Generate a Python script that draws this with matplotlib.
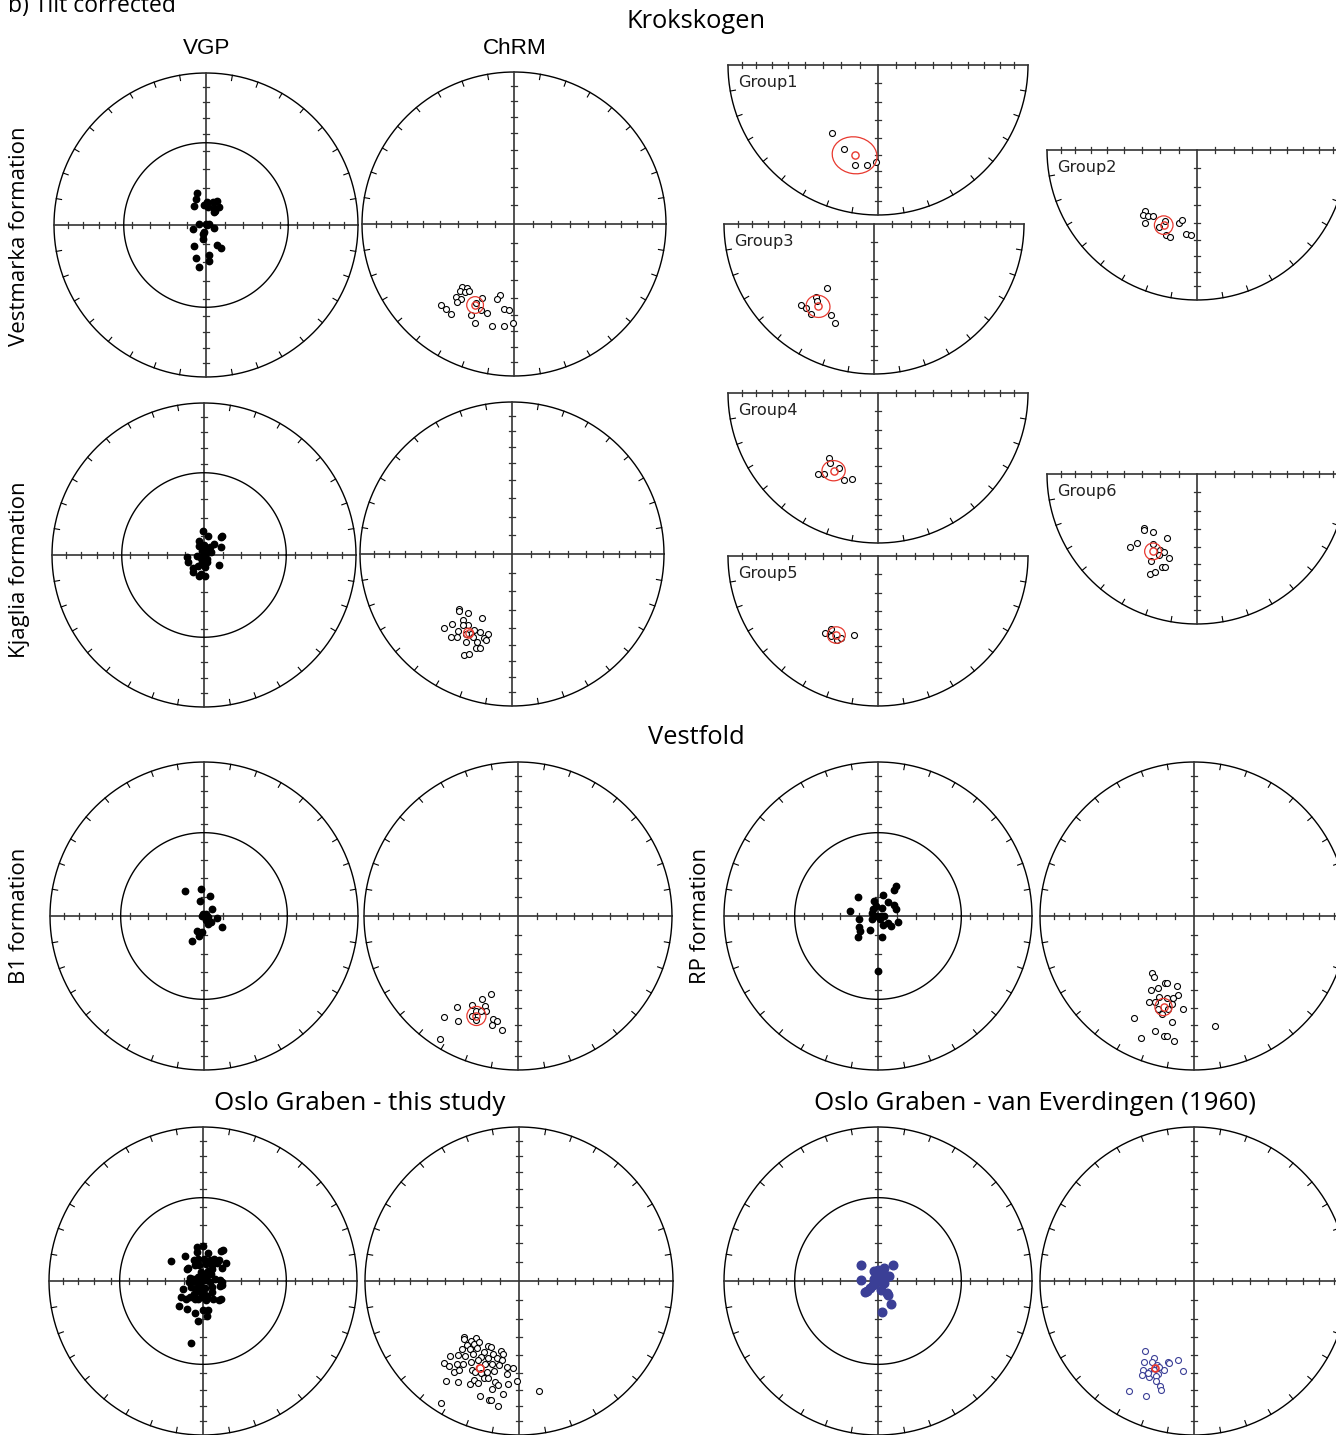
import numpy as np
import matplotlib
matplotlib.use('Agg')
import matplotlib.pyplot as plt
from matplotlib.patches import Ellipse

W, H = 1336, 1435
plt.rcParams['font.family'] = ['Open Sans', 'DejaVu Sans']

    ########################################################
    #! Data: east / north in units of the net radius      #
    #  (lower hemisphere, equal area) #
    ########################################################

# Vestmarka formation
vm_vgp_x = [-0.062, -0.068, -0.079, -0.013, 0.004, 0.013, 0.048, 0.075, 0.053, 0.084, 0.059, 0.053, -0.048, 0.0,
            0.009, 0.022, -0.084, 0.053, -0.013, -0.018, -0.022, -0.077, 0.070, 0.097, 0.018, -0.068, 0.018, -0.046]
vm_vgp_y = [0.209, 0.172, 0.128, 0.132, 0.154, 0.117, 0.150, 0.156, 0.115, 0.117, 0.095, 0.088, 0.007, 0.007,
            0.002, 0.007, -0.029, -0.020, -0.044, -0.059, -0.090, -0.139, -0.132, -0.150, -0.200, -0.220, -0.240, -0.275]
vm_chrm_x = [-0.341, -0.308, -0.355, -0.322, -0.293, -0.383, -0.346, -0.374, -0.211, -0.095, -0.115, -0.482,
             -0.449, -0.414, -0.251, -0.220, -0.176, -0.280, -0.068, -0.035, -0.258, -0.148, -0.068, -0.009]
vm_chrm_y = [-0.412, -0.419, -0.441, -0.447, -0.441, -0.482, -0.491, -0.511, -0.487, -0.469, -0.491, -0.533,
             -0.559, -0.593, -0.522, -0.564, -0.584, -0.601, -0.562, -0.566, -0.654, -0.672, -0.672, -0.650]
vm_mean = [-0.256, -0.533]
vm_a95 = [0.11, 0.11, 0]

# Kjaglia formation
kj_vgp_x = [-0.004, 0.026, -0.035, 0.119, 0.110, -0.031, 0.0, 0.066, 0.040, 0.115, -0.013, 0.013, 0.031, 0.048,
            -0.115, -0.104, -0.048, -0.022, -0.004, 0.004, 0.018, -0.013, 0.0, 0.018, -0.042, -0.070, -0.070,
            0.009, 0.097, -0.035, -0.022, 0.004]
kj_vgp_y = [0.161, 0.128, 0.095, 0.128, 0.119, 0.062, 0.066, 0.070, 0.053, 0.053, 0.026, 0.035, 0.024, 0.022,
            -0.015, -0.046, -0.004, -0.022, -0.009, 0.007, -0.024, -0.044, -0.053, -0.048, -0.075, -0.086, -0.110,
            -0.079, -0.066, -0.137, -0.123, -0.141]
kj_chrm_x = [-0.347, -0.349, -0.288, -0.200, -0.323, -0.393, -0.446, -0.292, -0.323, -0.358, -0.248, -0.213, -0.160,
             -0.402, -0.363, -0.182, -0.169, -0.305, -0.231, -0.235, -0.209, -0.314, -0.281, -0.270, -0.303, -0.259]
kj_chrm_y = [-0.365, -0.374, -0.385, -0.424, -0.431, -0.459, -0.488, -0.464, -0.470, -0.508, -0.503, -0.516, -0.525,
             -0.545, -0.547, -0.552, -0.569, -0.580, -0.578, -0.620, -0.620, -0.666, -0.655, -0.525, -0.525, -0.547]
kj_mean = [-0.286, -0.521]
kj_a95 = [0.066, 0.066, 0]

# Krokskogen groups
g1_x = [-0.307, -0.229, -0.151, -0.071, -0.011]
g1_y = [-0.451, -0.558, -0.664, -0.667, -0.644]
g1_mean = [-0.156, -0.602]
g1_a95 = [0.30, 0.245, -10]

g2_x = [-0.346, -0.359, -0.326, -0.295, -0.344, -0.255, -0.215, -0.208, -0.180, -0.118, -0.100, -0.071, -0.038]
g2_y = [-0.406, -0.435, -0.439, -0.439, -0.488, -0.514, -0.475, -0.565, -0.581, -0.486, -0.466, -0.559, -0.568]
g2_mean = [-0.222, -0.501]
g2_a95 = [0.124, 0.124, 0]

g3_x = [-0.311, -0.387, -0.378, -0.484, -0.453, -0.418, -0.284, -0.262]
g3_y = [-0.424, -0.487, -0.513, -0.538, -0.562, -0.598, -0.604, -0.660]
g3_mean = [-0.373, -0.549]
g3_a95 = [0.16, 0.147, -15]

g4_x = [-0.324, -0.322, -0.262, -0.400, -0.360, -0.229, -0.171]
g4_y = [-0.431, -0.469, -0.502, -0.542, -0.542, -0.580, -0.571]
g4_mean = [-0.296, -0.518]
g4_a95 = [0.155, 0.135, 0]

g5_x = [-0.356, -0.311, -0.316, -0.271, -0.249, -0.158]
g5_y = [-0.511, -0.487, -0.536, -0.558, -0.544, -0.529]
g5_mean = [-0.278, -0.527]
g5_a95 = [0.12, 0.11, 0]

g6_x = [-0.353, -0.353, -0.291, -0.198, -0.398, -0.449, -0.296, -0.247, -0.220, -0.256, -0.189, -0.304, -0.233,
        -0.211, -0.316, -0.282]
g6_y = [-0.362, -0.373, -0.384, -0.424, -0.458, -0.487, -0.467, -0.507, -0.518, -0.542, -0.560, -0.582, -0.620,
        -0.620, -0.664, -0.651]
g6_mean = [-0.293, -0.516]
g6_a95 = [0.112, 0.112, 0]

# Vestfold: B1 formation
b1_vgp_x = [-0.125, -0.021, 0.036, -0.029, 0.052, -0.005, -0.016, 0.016, 0.023, 0.010, 0.083, 0.047, 0.026,
            0.114, -0.047, -0.016, -0.031, -0.075]
b1_vgp_y = [0.165, 0.178, 0.132, 0.100, 0.048, 0.015, 0.0, 0.011, -0.007, -0.024, -0.015, -0.039, -0.050,
            -0.072, -0.100, -0.106, -0.130, -0.161]
b1_chrm_x = [-0.174, -0.231, -0.301, -0.216, -0.395, -0.210, -0.275, -0.239, -0.296, -0.478, -0.270, -0.390,
             -0.161, -0.135, -0.169, -0.104, -0.509]
b1_chrm_y = [-0.508, -0.541, -0.575, -0.582, -0.588, -0.617, -0.615, -0.617, -0.647, -0.654, -0.675, -0.682,
             -0.667, -0.684, -0.710, -0.743, -0.801]
b1_mean = [-0.270, -0.649]
b1_a95 = [0.124, 0.124, 0]

# Vestfold: RP formation
rp_vgp_x = [0.117, 0.105, -0.128, 0.031, -0.023, 0.066, -0.010, -0.031, 0.107, 0.117, 0.023, -0.184, -0.036,
            -0.005, 0.020, 0.041, 0.010, -0.041, -0.122, 0.066, 0.133, 0.087, 0.031, -0.122, -0.117, -0.054,
            -0.128, 0.026, 0.0]
rp_vgp_y = [0.197, 0.167, 0.123, 0.134, 0.097, 0.089, 0.065, 0.048, 0.069, 0.045, 0.050, 0.030, 0.019,
            0.0, 0.0, 0.002, -0.017, -0.019, -0.019, -0.045, -0.037, -0.067, -0.058, -0.074, -0.095, -0.089,
            -0.139, -0.134, -0.357]
rp_chrm_x = [-0.272, -0.260, -0.191, -0.176, -0.112, -0.232, -0.282, -0.107, -0.226, -0.178, -0.135, -0.293,
             -0.254, -0.140, -0.237, -0.170, -0.206, -0.074, -0.392, -0.145, 0.137, -0.254, -0.198, -0.176,
             -0.346, -0.132]
rp_chrm_y = [-0.370, -0.398, -0.435, -0.435, -0.457, -0.470, -0.481, -0.511, -0.528, -0.530, -0.530, -0.558,
             -0.556, -0.571, -0.602, -0.606, -0.638, -0.606, -0.662, -0.686, -0.716, -0.747, -0.779, -0.779,
             -0.792, -0.814]
rp_mean = [-0.198, -0.591]
rp_a95 = [0.112, 0.112, 0]

# Oslo Graben - this study
og_vgp_x = [-0.211, -0.114, -0.042, -0.003, -0.042, 0.031, 0.114, 0.127, -0.060, -0.034, 0.005, 0.044, 0.070,
            0.101, 0.148, -0.107, -0.099, -0.055, -0.026, 0.018, 0.057, 0.091, 0.125, -0.013, 0.031, 0.060,
            -0.086, -0.065, -0.034, -0.003, 0.026, 0.055, 0.112, 0.122, -0.094, -0.070, -0.039, -0.008, 0.018,
            0.044, 0.075, -0.127, -0.075, -0.044, -0.013, 0.013, 0.060, 0.109, 0.122, -0.143, -0.112, -0.055,
            -0.034, -0.003, 0.029, 0.065, 0.101, 0.114, 0.018, -0.156, -0.107, -0.055, -0.003, 0.031, 0.029,
            -0.034, -0.081, -0.021, 0.005, -0.060, 0.057, -0.086]
og_vgp_y = [0.127, 0.160, 0.218, 0.227, 0.188, 0.183, 0.194, 0.201, 0.136, 0.140, 0.145, 0.134, 0.145,
            0.134, 0.117, 0.080, 0.084, 0.101, 0.106, 0.112, 0.101, 0.119, 0.084, 0.058, 0.063, 0.076,
            0.022, 0.015, 0.026, 0.037, 0.032, 0.043, 0.006, -0.006, -0.006, -0.002, -0.011, -0.002, 0.004,
            -0.006, 0.015, -0.050, -0.039, -0.050, -0.041, -0.045, -0.037, -0.035, -0.024, -0.104, -0.114, -0.119,
            -0.114, -0.104, -0.097, -0.114, -0.121, -0.114, -0.125, -0.162, -0.181, -0.205, -0.190, -0.186, -0.229,
            -0.261, -0.401, -0.071, -0.082, -0.082, -0.071, -0.104]
og_chrm_x = [-0.354, -0.357, -0.276, -0.310, -0.336, -0.289, -0.258, -0.203, -0.185, -0.372, -0.320, -0.273,
             -0.229, -0.169, -0.117, -0.107, -0.451, -0.398, -0.352, -0.299, -0.247, -0.203, -0.143, -0.112,
             -0.484, -0.456, -0.404, -0.365, -0.313, -0.268, -0.221, -0.177, -0.133, -0.076, -0.042, -0.419,
             -0.391, -0.307, -0.284, -0.247, -0.211, -0.164, -0.078, -0.013, -0.477, -0.398, -0.320, -0.289,
             -0.268, -0.229, -0.201, -0.159, -0.138, -0.073, -0.255, -0.198, -0.185, -0.107, -0.138, -0.508,
             0.133, -0.174]
og_chrm_y = [-0.361, -0.374, -0.367, -0.391, -0.417, -0.406, -0.395, -0.425, -0.430, -0.443, -0.443, -0.438,
             -0.464, -0.477, -0.456, -0.471, -0.486, -0.482, -0.486, -0.477, -0.492, -0.503, -0.499, -0.510,
             -0.533, -0.555, -0.542, -0.542, -0.529, -0.514, -0.542, -0.536, -0.546, -0.559, -0.568, -0.590,
             -0.579, -0.579, -0.590, -0.598, -0.594, -0.585, -0.603, -0.648, -0.648, -0.657, -0.668, -0.644,
             -0.665, -0.633, -0.629, -0.659, -0.676, -0.667, -0.745, -0.775, -0.773, -0.737, -0.810, -0.795,
             -0.713, -0.700]
og_mean = [-0.253, -0.568]
og_a95 = [0.05, 0.05, 0]

# Oslo Graben - van Everdingen (1960)
ve_vgp_x = [-0.109, 0.099, -0.023, 0.003, 0.038, 0.069, 0.048, -0.112, -0.028, -0.003, 0.023, 0.036, -0.033,
            -0.053, -0.074, -0.084, 0.018, 0.061, 0.064, 0.084, 0.023, -0.015, 0.010]
ve_vgp_y = [0.106, 0.106, 0.063, 0.069, 0.084, 0.030, 0.037, 0.009, 0.015, 0.002, -0.002, -0.015, -0.024,
            -0.045, -0.063, -0.071, -0.060, -0.078, -0.093, -0.149, -0.199, 0.030, 0.019]
ve_chrm_x = [-0.316, -0.262, -0.326, -0.275, -0.168, -0.160, -0.107, -0.242, -0.331, -0.288, -0.262, -0.196,
             -0.069, -0.336, -0.293, -0.267, -0.237, -0.244, -0.249, -0.221, -0.214, -0.425, -0.313, -0.300, -0.229]
ve_chrm_y = [-0.454, -0.499, -0.529, -0.525, -0.529, -0.533, -0.510, -0.546, -0.579, -0.585, -0.577, -0.579,
             -0.585, -0.609, -0.622, -0.607, -0.607, -0.620, -0.650, -0.683, -0.708, -0.713, -0.747, -0.596, -0.557]
ve_mean = [-0.252, -0.568]
ve_a95 = [0.04, 0.04, 0]

    ##########################
    #? Stereonet helpers     #
    ##########################

RED = '#e8392f'
BLUE = '#3b3f96'
LW = 1.0
# equal-area radius of inclination ticks (every 10 deg)
tick_r = [np.sqrt(2) * np.sin(np.radians((90 - i) / 2)) for i in range(10, 90, 10)]

fig = plt.figure(figsize=(W / 100, H / 100), dpi=100)


def net(cx, cy, r, half=False, inner=False):
    pad = 1.08
    if half:
        ax = fig.add_axes([(cx - pad * r) / W, 1 - (cy + pad * r) / H, 2 * pad * r / W, (pad + 0.08) * r / H])
        ax.set_ylim(-pad, 0.08)
        th = np.linspace(np.pi, 2 * np.pi, 300)
    else:
        ax = fig.add_axes([(cx - pad * r) / W, 1 - (cy + pad * r) / H, 2 * pad * r / W, 2 * pad * r / H])
        ax.set_ylim(-pad, pad)
        th = np.linspace(0, 2 * np.pi, 600)
    ax.set_xlim(-pad, pad)
    ax.axis('off')
    ax.plot(np.cos(th), np.sin(th), color='k', lw=LW)
    # azimuth ticks on primitive
    for az in range(10, 360, 10):
        if az % 90 == 0:
            continue
        s, c = np.sin(np.radians(az)), np.cos(np.radians(az))
        if half and c > 0:
            continue
        ax.plot([s, 0.965 * s], [c, 0.965 * c], color='k', lw=0.8)
    # cross
    ax.plot([-1, 1], [0, 0], color='#333333', lw=1.2)
    ax.plot([0, 0], [-1, 0 if half else 1], color='#333333', lw=1.2)
    t = 0.022
    for rr in tick_r:
        for sg in (-1, 1):
            ax.plot([sg * rr, sg * rr], [-t, t], color='#333333', lw=0.9)
            if sg > 0 and half:
                continue
            ax.plot([-t, t], [sg * rr, sg * rr], color='#333333', lw=0.9)
    if inner:
        th = np.linspace(0, 2 * np.pi, 400)
        ri = np.sqrt(2) * np.sin(np.radians(22.5))
        ax.plot(ri * np.cos(th), ri * np.sin(th), color='k', lw=LW)
    return ax


def vgp(ax, x, y, col='k', ms=4.6):
    ax.plot(x, y, 'o', ls='none', color=col, ms=ms, mec=col, zorder=5)


def chrm(ax, x, y, mean, a95, col='k'):
    ax.plot(x, y, 'o', ls='none', ms=4.3, mfc='white', mec=col, mew=0.8, zorder=5)
    ax.add_patch(Ellipse((mean[0], mean[1]), a95[0], a95[1], angle=a95[2], fill=False, ec=RED, lw=0.9, zorder=6))
    ax.plot(mean[0], mean[1], 'o', ms=5.2, mfc='none', mec=RED, mew=1.0, zorder=7)


def txt(x, y, s, size, **kw):
    fig.text(x / W, 1 - y / H, s, fontsize=size, ha=kw.pop('ha', 'center'), va=kw.pop('va', 'center'), **kw)


    ##########################
    #* Krokskogen            #
    ##########################

ax = net(206, 225, 152, inner=True)
vgp(ax, vm_vgp_x, vm_vgp_y)
ax = net(514, 224, 152)
chrm(ax, vm_chrm_x, vm_chrm_y, vm_mean, vm_a95)

ax = net(204, 555, 152, inner=True)
vgp(ax, kj_vgp_x, kj_vgp_y)
ax = net(512, 554, 152)
chrm(ax, kj_chrm_x, kj_chrm_y, kj_mean, kj_a95)

groups = [('Group1', 878, 65, g1_x, g1_y, g1_mean, g1_a95),
          ('Group2', 1197, 150, g2_x, g2_y, g2_mean, g2_a95),
          ('Group3', 874, 224, g3_x, g3_y, g3_mean, g3_a95),
          ('Group4', 878, 393, g4_x, g4_y, g4_mean, g4_a95),
          ('Group5', 878, 556, g5_x, g5_y, g5_mean, g5_a95),
          ('Group6', 1197, 474, g6_x, g6_y, g6_mean, g6_a95)]
for name, cx, cy, gx, gy, gm, ga in groups:
    ax = net(cx, cy, 150, half=True)
    chrm(ax, gx, gy, gm, ga)
    ax.text(-0.93, -0.115, name, fontsize=11.6, family='DejaVu Sans', color='#222222', ha='left', va='center')

    ##########################
    #* Vestfold / Oslo       #
    ##########################

ax = net(204, 916, 154, inner=True)
vgp(ax, b1_vgp_x, b1_vgp_y)
ax = net(518, 916, 154)
chrm(ax, b1_chrm_x, b1_chrm_y, b1_mean, b1_a95)

ax = net(878, 916, 154, inner=True)
vgp(ax, rp_vgp_x, rp_vgp_y)
ax = net(1194, 916, 154)
chrm(ax, rp_chrm_x, rp_chrm_y, rp_mean, rp_a95)

ax = net(203, 1281, 154, inner=True)
vgp(ax, og_vgp_x, og_vgp_y)
ax = net(519, 1281, 154)
chrm(ax, og_chrm_x, og_chrm_y, og_mean, og_a95)

ax = net(878, 1281, 154, inner=True)
vgp(ax, ve_vgp_x, ve_vgp_y, col=BLUE, ms=6.2)
ax = net(1194, 1281, 154)
chrm(ax, ve_chrm_x, ve_chrm_y, ve_mean, ve_a95, col=BLUE)

    ##########################
    #* Labels                #
    ##########################

txt(8, 12, 'b) Tilt corrected', 16.5, ha='left', va='baseline')
txt(696, 22, 'Krokskogen', 18.4)
txt(207, 48, 'VGP', 16.2, family='Liberation Sans')
txt(515, 48, 'ChRM', 16.2, family='Liberation Sans')
txt(20, 236, 'Vestmarka formation', 16, rotation=90)
txt(20, 570, 'Kjaglia formation', 16, rotation=90)
txt(696, 737, 'Vestfold', 18.4)
txt(20, 916, 'B1 formation', 16, rotation=90)
txt(700, 916, 'RP formation', 16, rotation=90)
txt(360, 1104, 'Oslo Graben - this study', 18.7)
txt(1035, 1104, 'Oslo Graben - van Everdingen (1960)', 18.7)

fig.savefig('out.png', dpi=100)
